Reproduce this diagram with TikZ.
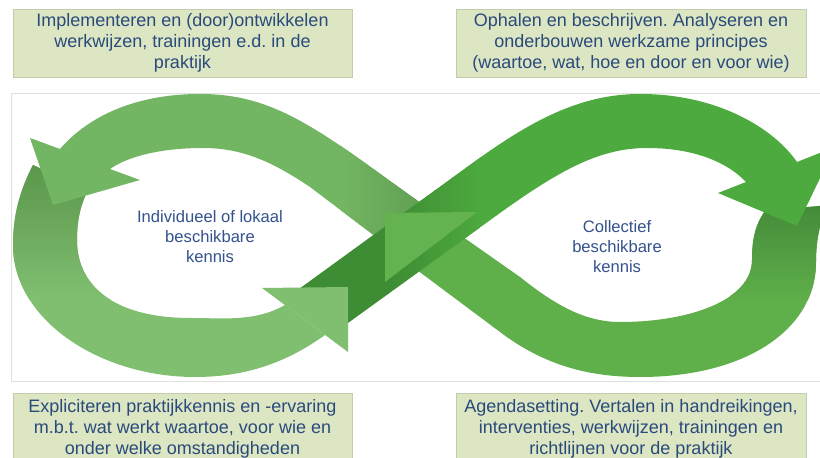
\documentclass[tikz,border=0pt]{standalone}
\usepackage{fontspec}
\setmainfont{Liberation Sans}
\frenchspacing

\definecolor{boxfill}{HTML}{DCE6C3}
\definecolor{boxline}{HTML}{C3CCAB}
\definecolor{boxtext}{HTML}{2A4A7C}
\definecolor{looptext}{HTML}{34528E}
\definecolor{tlgreen}{HTML}{72B562}
\definecolor{tldark}{HTML}{5E9A50}
\definecolor{blgreen}{HTML}{80BE70}
\definecolor{bldark}{HTML}{5A964B}
\definecolor{trgreen}{HTML}{4DAA3E}
\definecolor{trdark}{HTML}{3E8C34}
\definecolor{brgreen}{HTML}{5FAF4B}
\definecolor{brdark}{HTML}{448A39}
\definecolor{brhead}{HTML}{64B250}

\tikzset{
  infobox/.style={draw=boxline, fill=boxfill, text=boxtext, align=center, inner sep=0pt,
    font=\fontsize{9}{10.5}\selectfont},
  loopname/.style={text=looptext, align=center, font=\fontsize{8.3}{10}\selectfont},
}

\begin{document}
\begin{tikzpicture}[x=0.5pt,y=-0.5pt]
        \useasboundingbox (0,0) rectangle (820,458);
        \clip (0,0) rectangle (820,458);
        \fill[white] (0,0) rectangle (820,458);
        \draw[gray!25, fill=white] (11,93) rectangle (840,381);

        \coordinate (TLo) at (30,138);
        \coordinate (TLi) at (140,180);
        \coordinate (TLtip) at (53,205);
        \coordinate (BLi) at (262,288);
        \coordinate (BLo) at (348,352);
        \coordinate (BLtip) at (348,287);
        \coordinate (TRi) at (718,193);
        \coordinate (TRo) at (835,147);
        \coordinate (TRtip) at (797,226);
        \coordinate (BRi) at (477,212);
        \coordinate (BRo) at (385,282);
        \coordinate (BRtip) at (385,213);

        \begin{scope}
            \clip (830,205) -- (765,211) .. controls (755,225) and (752,240) .. (752,260)
                .. controls (752,300) and (690,322) .. (620,322)
                .. controls (585,322) and (555,305) .. (520,277) -- (453,230) -- (409,264) -- (500,332)
                .. controls (545,366) and (590,377) .. (640,377)
                .. controls (745,377) and (816,330) .. (816,262)
                .. controls (816,235) and (822,215) .. (830,205) -- cycle;
            \fill[brgreen] (400,190) rectangle (840,390);
            \foreach \k in {0,...,19} {
                \pgfmathtruncatemacro{\mix}{5*\k}
                \fill[brgreen!\mix!brdark] (730,{200+5*\k}) rectangle (840,{205.5+5*\k});
            }
        \end{scope}

        \begin{scope}
            \clip (33,165) .. controls (20,190) and (13,215) .. (13,245)
                .. controls (13,320) and (100,377) .. (195,377)
                .. controls (250,377) and (290,360) .. (325,335) -- (285,305)
                .. controls (255,322) and (225,318) .. (190,318)
                .. controls (120,318) and (77,290) .. (77,240)
                .. controls (77,215) and (83,200) .. (88,190) -- cycle;
            \fill[blgreen] (0,150) rectangle (360,390);
            \foreach \k in {0,...,27} {
                \pgfmathtruncatemacro{\mix}{100*\k/27}
                \fill[blgreen!\mix!bldark] (0,{160+5*\k}) rectangle (120,{165.5+5*\k});
            }
        \end{scope}

        \begin{scope}
            \clip (436,214) -- (372,168) .. controls (300,116) and (260,94) .. (200,94)
                .. controls (130,94) and (85,120) .. (60,149) -- (TLo) -- (TLtip) -- (TLi) -- (110,169)
                .. controls (130,155) and (165,148) .. (203,148)
                .. controls (240,148) and (270,160) .. (310,187) -- (404,258) -- cycle;
            \fill[tlgreen] (0,90) rectangle (450,270);
            \foreach \k in {0,...,19} {
                \pgfmathtruncatemacro{\mix}{100-5*\k}
                \fill[tlgreen!\mix!tldark] ({340+5*\k},140) rectangle ({345.5+5*\k},270);
            }
        \end{scope}

        \begin{scope}
            \clip (299.6,288.7) -- (470,165) .. controls (530,121) and (580,94) .. (640,94)
                .. controls (720,94) and (775,130) .. (797,162) -- (TRo) -- (TRtip) -- (TRi) -- (746,182)
                .. controls (725,160) and (690,148) .. (647,148)
                .. controls (600,148) and (560,170) .. (500,213) -- (332.4,334.1) -- cycle;
            \fill[trgreen] (290,90) rectangle (840,345);
            \fill[trdark] (290,150) rectangle (390,345);
            \foreach \k in {0,...,19} {
                \pgfmathtruncatemacro{\mix}{5*\k}
                \fill[trgreen!\mix!trdark] ({388+4.6*\k},150) rectangle ({393.2+4.6*\k},345);
            }
        \end{scope}

        \fill[blgreen] (BLi) -- (BLtip) -- (BLo) -- cycle;
        \fill[brhead] (BRi) -- (BRtip) -- (BRo) -- cycle;

        \node[loopname] (local) at (210,237) {Individueel of lokaal\\beschikbare\\kennis};
        \node[loopname] (collective) at (617,247) {Collectief\\beschikbare\\kennis};

        \node[infobox, minimum width=169.5pt, minimum height=34pt] (implement) at (182.5,43)
            {Implementeren en (door)ontwikkelen\\werkwijzen, trainingen e.d. in de\\praktijk};
        \node[infobox, minimum width=175pt, minimum height=34pt] (gather) at (631,43)
            {Ophalen en beschrijven. Analyseren en\\onderbouwen werkzame principes\\(waartoe, wat, hoe en door en voor wie)};
        \node[infobox, minimum width=169.5pt, minimum height=36pt] (explicate) at (182.5,429)
            {Expliciteren praktijkkennis en -ervaring\\m.b.t. wat werkt waartoe, voor wie en\\onder welke omstandigheden};
        \node[infobox, minimum width=175pt, minimum height=36pt] (agenda) at (631,429)
            {Agendasetting. Vertalen in handreikingen,\\interventies, werkwijzen, trainingen en\\richtlijnen voor de praktijk};
\end{tikzpicture}
\end{document}
